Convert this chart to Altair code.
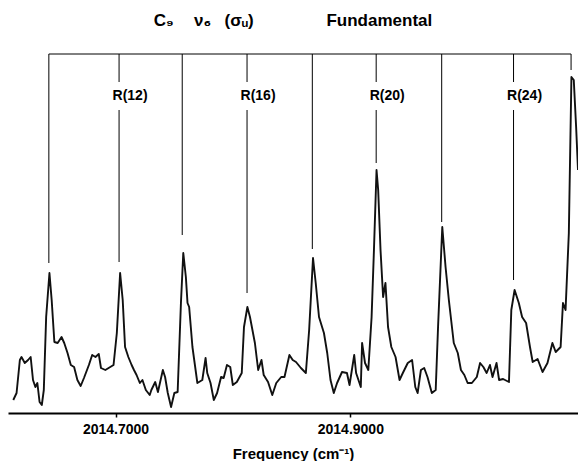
import altair as alt
import pandas as pd

# ---- spectrum (frequency in cm-1, relative intensity) ----
freq = [2014.6129, 2014.6157, 2014.6185, 2014.6199, 2014.6227, 2014.6255, 2014.6277, 2014.6297,
        2014.6317, 2014.6334, 2014.6353, 2014.6372, 2014.6389, 2014.6409, 2014.6437, 2014.6456,
        2014.6479, 2014.6507, 2014.6540, 2014.6563, 2014.6591, 2014.6619, 2014.6647, 2014.6675,
        2014.6703, 2014.6731, 2014.6773, 2014.6801, 2014.6829, 2014.6857, 2014.6876, 2014.6913,
        2014.6955, 2014.6983, 2014.7011, 2014.7039, 2014.7061, 2014.7081, 2014.7109, 2014.7137,
        2014.7157, 2014.7179, 2014.7207, 2014.7229, 2014.7258, 2014.7291, 2014.7305, 2014.7338,
        2014.7361, 2014.7403, 2014.7422, 2014.7445, 2014.7473, 2014.7501, 2014.7529, 2014.7557,
        2014.7577, 2014.7599, 2014.7613, 2014.7627, 2014.7655, 2014.7697, 2014.7739, 2014.7767,
        2014.7781, 2014.7809, 2014.7837, 2014.7865, 2014.7899, 2014.7921, 2014.7949, 2014.7977,
        2014.7999, 2014.8033, 2014.8075, 2014.8094, 2014.8123, 2014.8145, 2014.8187, 2014.8215,
        2014.8243, 2014.8262, 2014.8299, 2014.8335, 2014.8369, 2014.8411, 2014.8439, 2014.8481,
        2014.8509, 2014.8537, 2014.8579, 2014.8621, 2014.8649, 2014.8682, 2014.8705, 2014.8733,
        2014.8775, 2014.8803, 2014.8831, 2014.8859, 2014.8887, 2014.8929, 2014.8971, 2014.8993,
        2014.9033, 2014.9049, 2014.9089, 2014.9100, 2014.9125, 2014.9153, 2014.9181, 2014.9201,
        2014.9223, 2014.9237, 2014.9257, 2014.9279, 2014.9299, 2014.9321, 2014.9349, 2014.9385,
        2014.9419, 2014.9447, 2014.9489, 2014.9526, 2014.9553, 2014.9573, 2014.9601, 2014.9629,
        2014.9657, 2014.9694, 2014.9727, 2014.9747, 2014.9783, 2014.9811, 2014.9839, 2014.9881,
        2014.9915, 2014.9942, 2014.9971, 2014.9999, 2015.0035, 2015.0077, 2015.0105, 2015.0133,
        2015.0161, 2015.0189, 2015.0211, 2015.0245, 2015.0267, 2015.0301, 2015.0351, 2015.0371,
        2015.0399, 2015.0435, 2015.0463, 2015.0497, 2015.0530, 2015.0553, 2015.0595, 2015.0637,
        2015.0679, 2015.0721, 2015.0749, 2015.0791, 2015.0811, 2015.0833, 2015.0861, 2015.0883,
        2015.0903, 2015.0923, 2015.0939]
intensity = [13, 20, 53, 56, 50, 53, 56, 33,
             26, 30, 11, 8, 23, 96, 140, 113,
             71, 70, 76, 70, 60, 48, 46, 33,
             27, 35, 48, 58, 56, 59, 45, 43,
             46, 48, 80, 140, 113, 66, 56, 48,
             43, 38, 30, 33, 23, 18, 23, 31,
             21, 43, 36, 20, 6, 20, 21, 110,
             160, 136, 110, 106, 66, 30, 33, 55,
             40, 30, 13, 20, 36, 35, 48, 46,
             28, 31, 40, 86, 106, 96, 70, 43,
             53, 38, 31, 18, 30, 36, 36, 58,
             53, 51, 45, 40, 83, 155, 130, 96,
             80, 60, 33, 20, 30, 41, 40, 28,
             58, 40, 26, 70, 50, 43, 96, 163,
             243, 223, 163, 116, 130, 86, 66, 56,
             33, 40, 50, 53, 26, 20, 43, 45,
             36, 20, 23, 86, 186, 146, 113, 70,
             60, 43, 38, 30, 30, 36, 50, 46,
             40, 48, 36, 50, 33, 34, 31, 103,
             123, 110, 96, 90, 66, 51, 54, 41,
             50, 70, 61, 66, 110, 103, 180, 336,
             333, 286, 243]

# ---- line assignments (R branch, even J) ----
line_freq = [2014.6432, 2014.7030, 2014.7568, 2014.8120, 2014.8676, 2014.9220, 2014.9778, 2015.0390, 2015.0880]
line_bottom = [150, 151, 178, 120, 164, 250, 191, 133, 343]
line_label = ["", "R(12)", "", "R(16)", "", "R(20)", "", "R(24)", ""]
bar_level = 359
gap_top, gap_bottom, label_level = 331, 303, 317

x_ticks = [2014.7, 2014.9]
x_domain = [2014.6084, 2015.0939]

spec = pd.DataFrame({"f": freq, "i": intensity})

segs = []
for f, b, lab in zip(line_freq, line_bottom, line_label):
    if lab:
        segs.append({"f": f, "y1": bar_level, "y2": gap_top})
        segs.append({"f": f, "y1": gap_bottom, "y2": b})
    else:
        segs.append({"f": f, "y1": bar_level, "y2": b})
segdf = pd.DataFrame(segs)
topdf = pd.DataFrame({"f1": [line_freq[0]], "f2": [line_freq[-1]], "y": [bar_level]})
labdf = pd.DataFrame({"f": [f for f, l in zip(line_freq, line_label) if l],
                      "lab": [l for l in line_label if l],
                      "y": [label_level] * 4})

FONT = "Liberation Sans"
xsc = alt.Scale(domain=x_domain, nice=False, zero=False)
ysc = alt.Scale(domain=[0, 373], nice=False, zero=False)

line = alt.Chart(spec).mark_line(color="#111", strokeWidth=1.9, strokeJoin="round").encode(
    x=alt.X("f:Q", scale=xsc,
            axis=alt.Axis(title="Frequency (cm⁻¹)", values=x_ticks, format=".4f", grid=False,
                          domainColor="black", domainWidth=2, tickColor="black", tickSize=4,
                          tickWidth=1.5, labelFont=FONT, labelFontWeight="bold", labelFontSize=14,
                          labelColor="black", labelPadding=5, titleFont=FONT, titleFontWeight="bold",
                          titleFontSize=15, titleColor="black", titlePadding=10)),
    y=alt.Y("i:Q", scale=ysc, axis=None),
    order="f:Q",
)

rules = alt.Chart(segdf).mark_rule(color="black", strokeWidth=1).encode(
    x=alt.X("f:Q", scale=xsc), y=alt.Y("y1:Q", scale=ysc), y2="y2:Q")

top = alt.Chart(topdf).mark_rule(color="black", strokeWidth=1).encode(
    x=alt.X("f1:Q", scale=xsc), x2="f2:Q", y=alt.Y("y:Q", scale=ysc))

labels = alt.Chart(labdf).mark_text(font=FONT, fontWeight="bold", fontSize=14, color="black",
                                    dx=11, baseline="middle", align="center").encode(
    x=alt.X("f:Q", scale=xsc), y=alt.Y("y:Q", scale=ysc), text="lab:N")

title_text = "C₉\u2003\u2009ν₆\u2002 (σᵤ)\u2003\u2003\u2003\u2003 Fundamental"

chart = alt.layer(line, rules, top, labels).properties(
    width=570, height=373,
    autosize=alt.AutoSizeParams(type="none"),
    padding={"top": 32, "left": 0, "right": 0, "bottom": 48},
    title=alt.Title(title_text, font=FONT, fontSize=17,
                    fontWeight="bold", color="black", anchor="middle", dx=0, dy=19, offset=16,
                    baseline="alphabetic"),
).configure_view(stroke=None)

chart.save("out.html", embed_options={"renderer": "svg", "actions": False})
